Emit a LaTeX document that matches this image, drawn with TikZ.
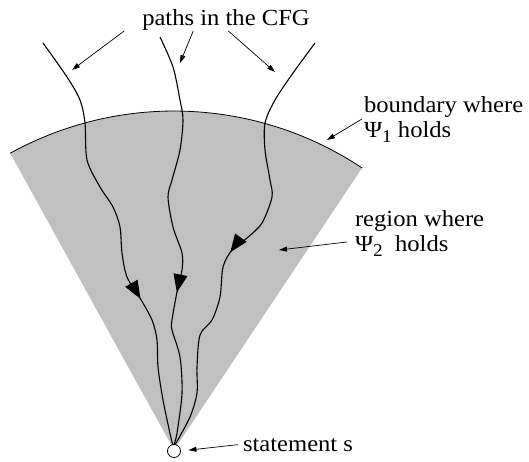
\documentclass[tikz,border=0pt]{standalone}
\usepackage{fontspec}
\setmainfont{Liberation Serif}[FakeStretch=1.07]
\usepackage{tikz}
\usetikzlibrary{positioning}
\usetikzlibrary{arrows.meta}
\usetikzlibrary{decorations.markings}
\definecolor{regiongray}{RGB}{192,192,192}
\newcommand{\lowsub}[1]{\raisebox{-5pt}{\fontsize{18}{18}\selectfont #1}}

\begin{document}
\begin{tikzpicture}[x=1pt,y=1pt,every node/.style={inner sep=0,outer sep=0,font=\fontsize{23}{25}\selectfont},
    cfgpath/.style={line width=1.1pt,postaction={decorate},
        decoration={markings,mark=at position #1 with {\arrow{Triangle[length=18pt,width=14pt]}}}},
    lbl/.style={line width=0.7pt,-{Triangle[length=8pt,width=5pt]}}]
	\useasboundingbox (0,0) rectangle (529,-461);
	% the region and its boundary
	\fill[regiongray] (174,-450) -- ++(118.9:339) arc[start angle=118.9,end angle=56.3,radius=339] -- cycle;
	\draw[line width=0.8pt] (174,-450) ++(118.9:339) arc[start angle=118.9,end angle=56.3,radius=339];
	\node (s) [circle,draw,fill=white,line width=0.8pt,minimum size=13pt] at (174,-451) {};
	% labels
	\node (cfg) [anchor=base] at (226,-25) {paths in the CFG};
	\node (bnd) [anchor=north west,align=left] at (364,-97) {boundary where\\Ψ\lowsub{1} holds};
	\node (rgn) [anchor=north west,align=left] at (355,-211) {region where\\Ψ\lowsub{2}\ \ holds};
	\node (stmt) [anchor=base west] at (243,-451) {statement s};
	% the three paths
	\coordinate (a) at (43,-43);
	\coordinate (b) at (160,-37);
	\coordinate (c) at (315,-43);
	\draw[cfgpath=0.65] plot[smooth] coordinates {(a) (67,-77) (80,-100) (85,-123) (87,-160) (100,-187) (113,-207) (120,-227)
	    (122,-253) (127,-277) (140,-298) (152,-320) (157,-340) (158,-367) (163,-400) (171,-438) (s.100)};
	\draw[cfgpath=0.63] plot[smooth] coordinates {(b) (173,-67) (180,-100) (183,-120) (180,-150) (172,-180) (168,-197) (173,-227)
	    (182,-253) (182,-270) (177,-292) (172,-320) (172,-330) (180,-357) (182,-393) (177,-433) (s.north)};
	\draw[cfgpath=0.54] plot[smooth] coordinates {(c) (293,-73) (275,-100) (265,-123) (265,-150) (270,-180) (272,-197) (262,-223)
	    (247,-238) (232,-250) (223,-267) (220,-297) (212,-320) (200,-335) (197,-367) (197,-393) (190,-417) (s.80)};
	% pointers from the labels
	\coordinate (p1) at (72,-70);
	\coordinate (p2) at (180,-63);
	\coordinate (p3) at (275,-72);
	\coordinate (q1) at (327,-140);
	\coordinate (q2) at (279,-250);
	\draw[lbl] ([xshift=-18pt,yshift=-1pt]cfg.south west) -- (p1);
	\draw[lbl] ([xshift=51pt,yshift=-1pt]cfg.south west) -- (p2);
	\draw[lbl] ([xshift=86pt,yshift=-1pt]cfg.south west) -- (p3);
	\draw[lbl] ([xshift=-2pt,yshift=1pt]bnd.west) -- (q1);
	\draw[lbl] ([xshift=-8pt,yshift=-8pt]rgn.west) -- (q2);
	\draw[lbl,shorten >=8pt] ([xshift=-5pt]stmt.west) -- (s.east);
\end{tikzpicture}
\end{document}
